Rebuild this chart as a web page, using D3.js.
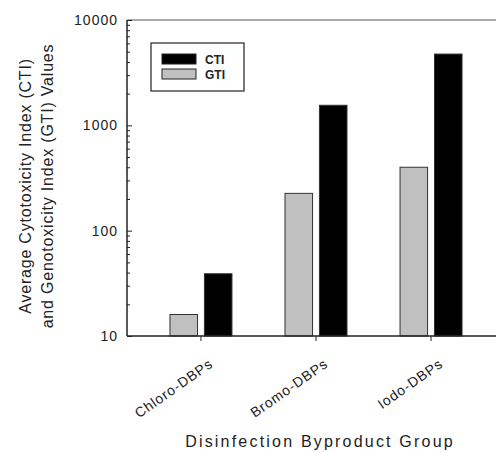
<!DOCTYPE html>
<html>
<head>
<meta charset="utf-8">
<script src="https://cdn.jsdelivr.net/npm/d3@7"></script>
<style>
  body { margin: 0; background: #fff; }
  svg text { font-family: "Liberation Sans", Arial, sans-serif; fill: #222; }
</style>
</head>
<body>
<div id="chart"></div>
<script>
const groups = ["Chloro-DBPs", "Bromo-DBPs", "Iodo-DBPs"];
const seriesNames = ["GTI", "CTI"];
const gtiValues = [16, 226, 400];
const ctiValues = [39, 1550, 4750];
const yTicks = [10, 100, 1000, 10000];

const width = 496, height = 452;
const margin = { top: 20, right: -9, bottom: 116, left: 127 };
const innerW = width - margin.left - margin.right;
const innerH = height - margin.top - margin.bottom;

const svg = d3.select("#chart").append("svg")
  .attr("width", width)
  .attr("height", height);

const g = svg.append("g")
  .attr("transform", `translate(${margin.left},${margin.top})`);

const x = d3.scaleBand()
  .domain(groups)
  .range([0, innerW])
  .paddingInner(0)
  .paddingOuter(0.143);

const xSub = d3.scaleBand()
  .domain(seriesNames)
  .range([-31, 31])
  .paddingInner(0.2);

const y = d3.scaleLog()
  .domain([10, 10000])
  .range([innerH, 0]);

const color = { GTI: "#c0c0c0", CTI: "#000000" };

const rows = groups.map((grp, i) => ({
  group: grp,
  GTI: gtiValues[i],
  CTI: ctiValues[i]
}));

// bars
rows.forEach(d => {
  const cx = x(d.group) + x.bandwidth() / 2;
  seriesNames.forEach(s => {
    g.append("rect")
      .attr("x", cx + xSub(s))
      .attr("y", y(d[s]))
      .attr("width", xSub.bandwidth())
      .attr("height", innerH - y(d[s]))
      .attr("fill", color[s])
      .attr("stroke", "#333")
      .attr("stroke-width", 1);
  });
});

// top frame line
g.append("line")
  .attr("x1", 0).attr("x2", innerW)
  .attr("y1", 0).attr("y2", 0)
  .attr("stroke", "#555").attr("stroke-width", 1);

// y axis with minor ticks pointing inward
const minorTicks = [];
for (let dec = 10; dec < 10000; dec *= 10) {
  for (let k = 2; k <= 9; k++) minorTicks.push(dec * k);
}

const yAxis = g.append("g")
  .call(d3.axisRight(y).tickValues(yTicks).tickSize(5).tickFormat(""));
yAxis.select(".domain").attr("d", `M0,0V${innerH}`).attr("stroke", "#222").attr("stroke-width", 1.5);
yAxis.selectAll(".tick line").attr("stroke", "#222");

g.append("g")
  .call(d3.axisRight(y).tickValues(minorTicks).tickSize(3).tickFormat(""))
  .call(a => a.select(".domain").remove())
  .selectAll(".tick line").attr("stroke", "#222");

g.selectAll(".ylab")
  .data(yTicks)
  .enter().append("text")
  .attr("class", "ylab")
  .attr("x", -9)
  .attr("y", d => y(d))
  .attr("dy", "0.35em")
  .attr("text-anchor", "end")
  .attr("font-size", "14px")
  .attr("letter-spacing", "1px")
  .text(d => d);

// x axis
const xAxis = g.append("g")
  .attr("transform", `translate(0,${innerH})`)
  .call(d3.axisBottom(x).tickSize(5).tickFormat(""));
xAxis.select(".domain").attr("d", `M0,0H${innerW}`).attr("stroke", "#222").attr("stroke-width", 1.5);
xAxis.selectAll(".tick line").attr("stroke", "#222");

g.selectAll(".xlab")
  .data(groups)
  .enter().append("text")
  .attr("class", "xlab")
  .attr("text-anchor", "end")
  .attr("font-size", "14px")
  .attr("letter-spacing", "0.9px")
  .attr("transform", d => `translate(${x(d) + x.bandwidth() / 2 + 13},${innerH + 30}) rotate(-35)`)
  .text(d => d);

// axis titles
svg.append("text")
  .attr("x", 320)
  .attr("y", 447)
  .attr("text-anchor", "middle")
  .attr("font-size", "16px")
  .attr("letter-spacing", "2.2px")
  .text("Disinfection Byproduct Group");

const yTitle = svg.append("text")
  .attr("transform", "translate(31,186) rotate(-90)")
  .attr("text-anchor", "middle")
  .attr("font-size", "16px")
  .attr("letter-spacing", "0.8px");
yTitle.append("tspan").attr("x", 0).attr("dy", 0).text("Average Cytotoxicity Index (CTI)");
yTitle.append("tspan").attr("x", 0).attr("dy", 22).text("and Genotoxicity Index (GTI) Values");

// legend
const legend = svg.append("g").attr("transform", "translate(151,43)");
legend.append("rect")
  .attr("width", 93).attr("height", 48)
  .attr("fill", "#fff").attr("stroke", "#222").attr("stroke-width", 1.2);

["CTI", "GTI"].forEach((s, i) => {
  const row = legend.append("g").attr("transform", `translate(11,${11 + i * 15})`);
  row.append("rect")
    .attr("width", 34).attr("height", 10)
    .attr("fill", color[s]).attr("stroke", "#222").attr("stroke-width", 1);
  row.append("text")
    .attr("x", 43).attr("y", 10)
    .attr("font-size", "12px")
    .attr("font-weight", "bold")
    .attr("fill", "#333")
    .text(s);
});
</script>
</body>
</html>
